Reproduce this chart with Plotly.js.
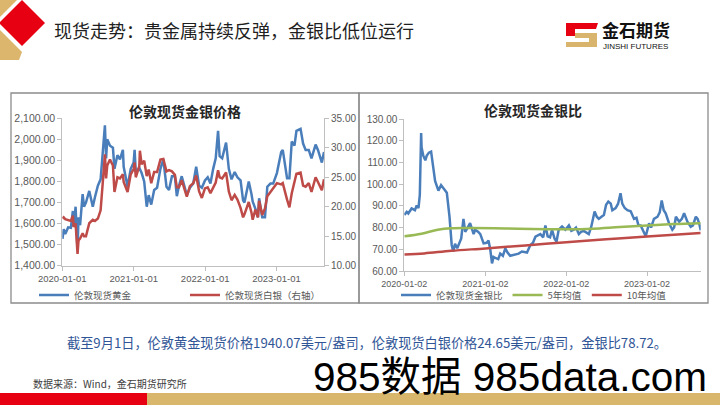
<!DOCTYPE html>
<html><head><meta charset="utf-8">
<script src="https://cdn.plot.ly/plotly-3.0.1.min.js"></script>
<style>html,body{margin:0;padding:0;background:#fff;overflow:hidden}#chart{width:720px;height:405px}</style>
</head><body><div id="chart"></div>
<script>
// ---------- data ----------
const priceDates = ['2020-01-02','2020-01-08','2020-01-16','2020-01-31','2020-02-14','2020-02-24','2020-02-28','2020-03-09','2020-03-19','2020-03-24',
'2020-04-01','2020-04-14','2020-04-21','2020-05-01','2020-05-18','2020-06-05','2020-06-16','2020-07-01','2020-07-15','2020-07-27',
'2020-08-06','2020-08-12','2020-08-18','2020-09-01','2020-09-16','2020-09-24','2020-10-09','2020-10-22','2020-11-06','2020-11-10',
'2020-11-30','2020-12-16','2020-12-31','2021-01-05','2021-01-11','2021-01-29','2021-02-01','2021-02-10','2021-02-23','2021-03-08',
'2021-03-18','2021-03-31','2021-04-15','2021-04-30','2021-05-17','2021-06-01','2021-06-17','2021-06-30','2021-07-15','2021-07-30',
'2021-08-09','2021-08-20','2021-09-03','2021-09-29','2021-10-15','2021-11-01','2021-11-16','2021-12-01','2021-12-15','2021-12-31',
'2022-01-14','2022-01-28','2022-02-11','2022-02-24','2022-03-08','2022-03-16','2022-03-29','2022-04-18','2022-05-02','2022-05-16',
'2022-06-01','2022-06-15','2022-07-01','2022-07-14','2022-07-21','2022-08-12','2022-08-26','2022-09-01','2022-09-15','2022-09-28',
'2022-10-04','2022-10-20','2022-11-03','2022-11-15','2022-12-01','2022-12-15','2023-01-03','2023-01-25','2023-02-02','2023-02-24',
'2023-03-08','2023-03-20','2023-04-03','2023-04-13','2023-05-04','2023-05-17','2023-05-30','2023-06-15','2023-06-29','2023-07-20',
'2023-08-01','2023-08-21','2023-09-01'];
const goldPrice = [1528,1574,1550,1582,1580,1660,1586,1680,1474,1630,
1592,1740,1680,1700,1755,1680,1725,1780,1810,1940,
2067,1910,2000,1970,1960,1860,1925,1905,1950,1870,
1775,1860,1890,1950,1845,1865,1860,1840,1800,1680,
1735,1690,1760,1770,1860,1905,1775,1760,1825,1825,
1730,1780,1825,1735,1770,1790,1870,1780,1770,1805,
1820,1790,1860,1910,2040,1920,1910,1985,1860,1810,
1845,1820,1805,1710,1700,1800,1740,1705,1670,1630,
1720,1630,1630,1775,1790,1790,1840,1940,1950,1815,
1815,1990,1970,2040,2050,1980,1950,1950,1910,1975,
1950,1890,1940.07];
const silverPrice = [18.0,18.2,17.9,17.7,17.6,18.5,16.6,17.2,12.0,14.3,
14.6,15.5,15.0,15.0,17.2,17.8,17.6,18.0,19.4,24.5,
28.9,24.8,27.0,28.0,27.0,22.5,25.0,24.8,25.5,24.2,
22.5,25.5,26.4,27.5,25.0,26.9,29.5,27.2,27.8,25.2,
26.3,24.0,25.9,25.9,28.0,28.1,26.0,26.2,26.0,25.4,
23.3,23.3,24.5,21.7,23.5,24.0,25.3,22.6,21.5,23.1,
23.3,22.3,23.4,24.1,26.2,25.0,24.8,25.8,22.6,21.1,
22.0,21.2,19.8,18.2,18.7,20.8,19.0,17.8,19.5,18.2,
21.0,18.6,19.7,21.8,22.5,23.2,24.0,23.8,24.0,21.2,
19.9,22.3,24.0,25.6,25.8,23.6,23.4,24.0,22.5,25.0,
24.2,22.8,24.65];

const ratioDates = ['2020-01-02','2020-01-13','2020-01-20','2020-02-04','2020-02-19','2020-02-27','2020-03-06','2020-03-12','2020-03-18','2020-03-20',
'2020-03-28','2020-04-06','2020-04-12','2020-04-22','2020-05-02','2020-05-12','2020-05-20','2020-06-04','2020-06-16','2020-07-01',
'2020-07-12','2020-07-24','2020-08-03','2020-08-10','2020-08-18','2020-08-28','2020-09-03','2020-09-15','2020-09-25','2020-10-03',
'2020-10-14','2020-10-25','2020-11-10','2020-11-17','2020-12-01','2020-12-10','2020-12-25','2021-01-08','2021-01-16','2021-01-24',
'2021-02-01','2021-02-08','2021-02-16','2021-03-01','2021-03-10','2021-03-22','2021-04-02','2021-04-12','2021-04-24','2021-05-17',
'2021-06-01','2021-06-16','2021-07-09','2021-07-24','2021-08-05','2021-08-16','2021-09-07','2021-09-20','2021-09-30','2021-10-10',
'2021-10-21','2021-10-30','2021-11-10','2021-11-19','2021-11-29','2021-12-14','2021-12-29','2022-01-14','2022-01-25','2022-02-05',
'2022-02-15','2022-02-28','2022-03-10','2022-03-22','2022-04-14','2022-04-25','2022-05-10','2022-05-20','2022-05-29','2022-06-10',
'2022-06-21','2022-07-01','2022-07-11','2022-07-22','2022-07-29','2022-08-13','2022-08-24','2022-09-04','2022-09-12','2022-09-23',
'2022-10-05','2022-10-20','2022-11-04','2022-11-15','2022-11-24','2022-12-04','2022-12-15','2022-12-27','2023-01-11','2023-01-20',
'2023-02-02','2023-02-18','2023-02-28','2023-03-09','2023-03-18','2023-03-27','2023-04-11','2023-04-26','2023-05-04','2023-05-12',
'2023-05-27','2023-06-08','2023-06-18','2023-07-03','2023-07-18','2023-07-28','2023-08-10','2023-08-18','2023-08-25','2023-09-01'];
const goldSilverRatio = [85.8,87.2,86.5,88.8,88.0,90.2,89.0,95.0,123.5,117.0,
113.0,111.0,113.0,114.5,115.0,107.0,101.5,97.0,99.5,97.5,
96.0,85.0,72.0,69.0,72.5,70.5,72.0,75.0,84.0,78.0,
80.0,82.0,77.0,79.0,78.0,77.0,72.7,73.0,74.0,70.0,
63.5,66.5,66.0,65.5,68.0,67.0,70.4,68.5,67.0,67.5,
68.0,69.0,68.5,72.0,73.0,75.8,77.0,75.5,81.0,76.0,
75.5,79.0,75.0,73.5,79.0,80.5,79.0,81.0,78.5,79.0,
80.0,77.0,78.0,78.5,77.0,80.4,87.4,85.0,84.0,85.0,
85.8,90.5,92.0,91.0,88.0,89.0,91.0,95.8,91.0,89.0,
88.0,87.5,84.0,84.5,81.0,81.0,78.5,76.0,82.0,80.0,
84.0,85.0,87.0,92.5,88.0,86.6,82.0,79.0,80.0,85.0,
82.7,84.0,86.6,82.7,80.4,81.0,85.0,84.0,82.0,78.72];

const ma5Dates = ['2020-01-02','2020-03-20','2020-06-01','2020-08-01','2020-11-01','2021-04-01','2021-08-01','2022-01-02','2022-05-01','2022-09-01','2023-01-02','2023-05-01','2023-09-01'];
const ma5Values = [76.0,77.2,79.0,79.7,79.8,79.6,79.3,79.2,79.5,80.3,81.0,81.6,82.0];
const ma10Dates = ['2020-01-02','2020-04-01','2020-08-01','2021-01-02','2021-07-01','2022-01-02','2022-07-01','2023-01-02','2023-09-01'];
const ma10Values = [67.6,68.1,69.3,70.4,71.8,73.2,74.6,75.9,77.5];

const leftTicks = ['2020-01-01','2021-01-01','2022-01-01','2023-01-01'];
const rightTicks = ['2020-01-02','2021-01-02','2022-01-02','2023-01-02'];
const seriesNames = ['伦敦现货黄金','伦敦现货白银（右轴）','伦敦现货金银比','5年均值','10年均值'];

// ---------- helpers (page pixels -> paper) ----------
const W = 720, H = 405;
const px = x => x / W;
const py = y => 1 - y / H;
const path = pts => 'M' + pts.map(p => px(p[0]) + ',' + py(p[1])).join('L') + 'Z';

const BLUE = '#4A7EBB', RED = '#BE4B48', GREEN = '#98B954';
const AX = '#BFBFBF', TXT = '#595959';
const NUM = 'Liberation Sans, Arial, sans-serif';
const CJK = 'Noto Sans CJK SC, sans-serif';

const traces = [
  {x: priceDates, y: goldPrice, name: seriesNames[0], type: 'scatter', mode: 'lines', line: {color: BLUE, width: 2.5}, xaxis: 'x', yaxis: 'y', legend: 'legend'},
  {x: priceDates, y: silverPrice, name: seriesNames[1], type: 'scatter', mode: 'lines', line: {color: RED, width: 2.5}, xaxis: 'x', yaxis: 'y2', legend: 'legend'},
  {x: ratioDates, y: goldSilverRatio, name: seriesNames[2], type: 'scatter', mode: 'lines', line: {color: BLUE, width: 2.5}, xaxis: 'x2', yaxis: 'y3', legend: 'legend2'},
  {x: ma5Dates, y: ma5Values, name: seriesNames[3], type: 'scatter', mode: 'lines', line: {color: GREEN, width: 2.5, shape: 'spline'}, xaxis: 'x2', yaxis: 'y3', legend: 'legend2'},
  {x: ma10Dates, y: ma10Values, name: seriesNames[4], type: 'scatter', mode: 'lines', line: {color: RED, width: 2.5, shape: 'spline'}, xaxis: 'x2', yaxis: 'y3', legend: 'legend2'}
];

const axBase = {showline: true, linecolor: AX, linewidth: 1, ticks: 'outside', ticklen: 4, tickcolor: AX, showgrid: false, zeroline: false, fixedrange: true};

const shapes = [
  // panels
  {type: 'rect', xref: 'paper', yref: 'paper', x0: px(11), x1: px(359), y0: py(303), y1: py(93), line: {color: '#8C8C8C', width: 1.3}, layer: 'below'},
  {type: 'rect', xref: 'paper', yref: 'paper', x0: px(359), x1: px(708), y0: py(303), y1: py(93), line: {color: '#8C8C8C', width: 1.3}, layer: 'below'},
  // header decorations
  {type: 'path', xref: 'paper', yref: 'paper', path: path([[0,0],[17,0],[0,17]]), fillcolor: '#DDB66E', line: {width: 0}},
  {type: 'path', xref: 'paper', yref: 'paper', path: path([[0,30],[22,52],[19,60],[0,60]]), fillcolor: '#DDB66E', line: {width: 0}},
  {type: 'path', xref: 'paper', yref: 'paper', path: path([[22,0],[45,23],[22,46],[-1,23]]), fillcolor: '#E60012', line: {width: 0}},
  // logo mark
  {type: 'path', xref: 'paper', yref: 'paper', path: path([[566,23],[598,23],[596,29],[575,29],[575,36],[566,36]]), fillcolor: '#E60012', line: {width: 0}},
  {type: 'path', xref: 'paper', yref: 'paper', path: path([[575,33],[597,33],[597,47],[566,47],[566,42],[589,42],[589,38],[575,38]]), fillcolor: '#D9B46C', line: {width: 0}},
  // footer bar
  {type: 'rect', xref: 'paper', yref: 'paper', x0: 0, x1: px(147), y0: 0, y1: py(393), fillcolor: '#E60012', line: {width: 0}},
  {type: 'rect', xref: 'paper', yref: 'paper', x0: px(147), x1: 1, y0: 0, y1: py(393), fillcolor: '#D8B76C', line: {width: 0}}
];

const ann = (text, x, y, size, color, opts) => Object.assign({text, x: px(x), y: py(y), xref: 'paper', yref: 'paper', showarrow: false, xanchor: 'center', yanchor: 'middle', font: {family: CJK, size, color}}, opts || {});

const annotations = [
  ann('现货走势：贵金属持续反弹，金银比低位运行', 52, 30, 18, '#1F1F1F', {xanchor: 'left'}),
  ann('金石期货', 600, 29, 17, '#111111', {xanchor: 'left', font: {family: CJK, size: 17, color: '#111111', weight: 'bold'}}),
  ann('JINSHI FUTURES', 601, 46.5, 8, '#111111', {xanchor: 'left', font: {family: NUM, size: 8, color: '#111111'}}),
  ann('伦敦现货金银价格', 185, 111, 14, '#262626', {font: {family: CJK, size: 14, color: '#262626', weight: 'bold'}}),
  ann('伦敦现货金银比', 533, 110, 14, '#262626', {font: {family: CJK, size: 14, color: '#262626', weight: 'bold'}}),
  ann('截至9月1日，伦敦黄金现货价格1940.07美元/盎司，伦敦现货白银价格24.65美元/盎司，金银比78.72。', 367, 342, 13.2, '#2F5597'),
  ann('数据来源：Wind，金石期货研究所', 31, 383, 10, '#404040', {xanchor: 'left'}),
  ann('985数据 985data.com', 311, 377, 40.5, '#000000', {xanchor: 'left', font: {family: 'Liberation Sans, Noto Sans CJK SC, sans-serif', size: 40.5, color: '#000000'}})
];

const layout = {
  width: W, height: H, margin: {l: 0, r: 0, t: 0, b: 0},
  paper_bgcolor: '#FFFFFF', plot_bgcolor: 'rgba(0,0,0,0)',
  showlegend: true,
  font: {family: NUM, color: TXT},
  xaxis: Object.assign({}, axBase, {domain: [px(62.3), px(324)], anchor: 'y', type: 'date', range: ['2020-01-01', '2023-09-01'], tickmode: 'array', tickvals: leftTicks, ticktext: leftTicks, tickfont: {family: NUM, size: 9.5, color: TXT}}),
  yaxis: Object.assign({}, axBase, {domain: [py(265.7), py(118.3)], anchor: 'x', range: [1400, 2100], tick0: 1400, dtick: 100, tickformat: ',.2f', tickfont: {family: NUM, size: 10.5, color: TXT}}),
  yaxis2: Object.assign({}, axBase, {overlaying: 'y', side: 'right', anchor: 'x', range: [10, 35], tick0: 10, dtick: 5, tickformat: '.2f', tickfont: {family: NUM, size: 10, color: TXT}}),
  xaxis2: Object.assign({}, axBase, {domain: [px(404.3), px(700.7)], anchor: 'y3', type: 'date', range: ['2020-01-02', '2023-09-01'], tickmode: 'array', tickvals: rightTicks, ticktext: rightTicks, tickfont: {family: NUM, size: 9, color: TXT}}),
  yaxis3: Object.assign({}, axBase, {domain: [py(271), py(119)], anchor: 'x2', range: [60, 130], tick0: 60, dtick: 10, tickformat: '.2f', tickfont: {family: NUM, size: 10, color: TXT}}),
  legend: {orientation: 'h', x: px(34), y: py(295), xanchor: 'left', yanchor: 'middle', bgcolor: 'rgba(0,0,0,0)', font: {family: CJK, size: 9.5, color: TXT}, itemwidth: 30, entrywidth: 106, entrywidthmode: 'pixels'},
  legend2: {orientation: 'h', x: px(396), y: py(295), xanchor: 'left', yanchor: 'middle', bgcolor: 'rgba(0,0,0,0)', font: {family: CJK, size: 9.5, color: TXT}, itemwidth: 30},
  shapes, annotations
};

Plotly.newPlot('chart', traces, layout, {displayModeBar: false, staticPlot: true});
</script></body></html>
